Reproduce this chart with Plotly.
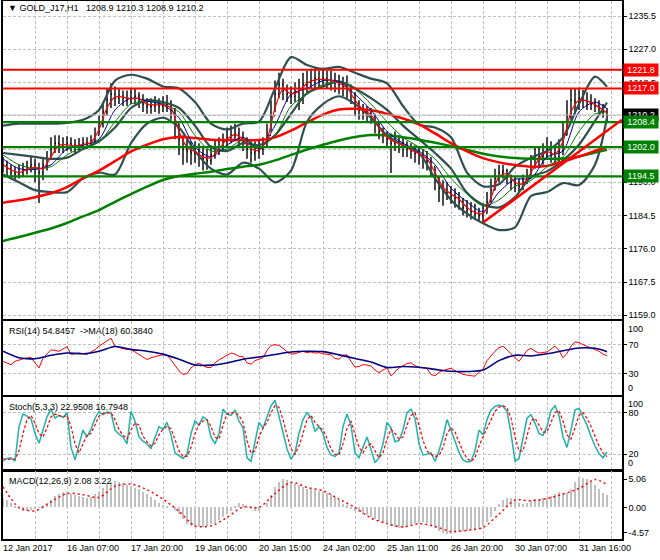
import plotly.graph_objects as go
from plotly.subplots import make_subplots

# ---------------- data ----------------
title_text = "\u25bc GOLD_J17,H1\u00a0\u00a0 1208.9 1210.3 1208.9 1210.2"
tick_bars = [0, 32, 64, 96, 128, 160, 192, 224, 256, 288]
tick_labels = ["12 Jan 2017", "16 Jan 07:00", "17 Jan 20:00", "19 Jan 06:00", "20 Jan 15:00",
               "24 Jan 02:00", "25 Jan 11:00", "26 Jan 20:00", "30 Jan 07:00", "31 Jan 16:00"]

bar_idx = list(range(0, 303, 2))          # one price bar every 2 hourly bars
idx4 = list(range(0, 301, 4)) + [302]
idx8 = list(range(0, 297, 8)) + [302]

close = [1197.5,1196.5,1195.5,1195,1195.5,1196,1197,1197.5,1196.5,1195.5,
         1197.5,1199,1201.5,1203,1202.5,1202,1203,1202.5,1202,1202.5,
         1203,1203,1203.5,1205,1208,1211,1214,1215.5,1214.5,1215,
         1214.5,1214,1214.5,1215,1214,1213,1212.5,1212.5,1213,1212.5,
         1213,1213,1211.5,1208,1204,1201.5,1201,1200.5,1201,1200,
         1199,1198.5,1200,1201.5,1202,1203.5,1204.5,1205,1205.5,1204,
         1203.5,1201.5,1200.5,1201,1201.5,1202,1205,1210,1215.5,1218,
         1216.5,1215.5,1215,1216,1217,1218,1218.5,1219,1219.5,1219,
         1219.5,1219,1219,1218.5,1218,1217.5,1217,1215.5,1213,1211.5,
         1211,1210.5,1210,1208,1206,1205,1204,1203,1203.5,1203,
         1202,1201.5,1201,1200.5,1200,1199.5,1198.5,1197,1194,1191.5,
         1191,1190.5,1189.5,1189,1188,1186.5,1186,1185.5,1185,1184.5,
         1185,1188,1191,1194,1195.5,1196,1194.5,1193,1192.5,1192,
         1193,1194.5,1197,1199,1199.5,1200,1201.5,1200.5,1199.5,1201,
         1205,1210,1214,1213.5,1214.5,1214,1213.5,1213,1212.5,1212,
         1211,1210.2]
high = [1199.5,1198.5,1197.5,1197,1197.5,1198,1198.5,1199.5,1199,1198,
        1199,1201,1204.5,1205,1205,1204.5,1204.8,1204.5,1204,1204.3,
        1204.5,1204.5,1205,1207,1210,1213.5,1217,1218.3,1217.5,1217,
        1216.5,1216.5,1217,1217,1216,1215.5,1214.5,1214.5,1215,1214.5,
        1215,1215.3,1214,1212,1208,1205,1204,1203.5,1203.5,1203,
        1202,1201.5,1202.5,1204,1204.5,1205.5,1207,1207.5,1208,1207,
        1206,1204.5,1203.5,1203.5,1204,1204.5,1208,1214,1219,1221,
        1219.5,1218,1217.5,1218.5,1219.5,1221,1221.5,1222,1222.2,1221.5,
        1222,1221.5,1221.5,1221,1220.5,1220,1220.3,1218,1216,1214,
        1213,1212.5,1212,1210.5,1208.5,1207,1206,1205.5,1206,1205,
        1204.5,1203.5,1203,1202.5,1202,1201.5,1201,1199.5,1197,1194.5,
        1193.5,1193,1192,1191.5,1190.5,1189,1188.5,1188,1187.5,1186.5,
        1187,1190.5,1194,1196.5,1197.5,1197.5,1196.5,1195,1194.5,1194,
        1195,1196.5,1200,1202,1202,1203,1204.5,1203.5,1202.5,1204,
        1208.5,1214,1217,1217,1217.2,1216.6,1216,1215.5,1214.5,1214,
        1213,1212]
low = [1195.5,1194.5,1193.8,1193.5,1194,1194.5,1195,1195.5,1193,1187.7,
       1193.5,1196,1199,1200.5,1200.5,1200.5,1201,1200.8,1200.5,1201,
       1201.5,1201.5,1202,1203,1205,1207,1210,1212,1212.5,1213,
       1212.5,1212.5,1213,1213,1212,1211,1210.5,1210.5,1211,1210.5,
       1211,1211,1209,1204,1200,1197.5,1198,1197.5,1198,1197,
       1196,1196.2,1197.5,1199,1200,1201,1202,1203,1203.5,1202,
       1201,1199,1198,1198.5,1199,1200,1202,1206,1211,1214.5,
       1214,1213.5,1213,1213.5,1211.5,1213,1216,1217,1217,1217,
       1217.5,1217,1216.5,1216,1215.5,1215,1214.5,1213,1210,1209,
       1209,1208.5,1208,1205.5,1204,1203,1202,1195.4,1201,1200.5,
       1199.5,1199.5,1199,1198,1197.5,1196.5,1196,1194.5,1191,1188,
       1187,1188.5,1187.5,1186.5,1186,1184.5,1184,1183.5,1183.5,1183,
       1182.7,1185,1188,1191,1193,1194,1192.5,1191,1190.5,1190.3,
       1191,1192.5,1194.5,1196.5,1197,1197.5,1199,1198,1197.5,1198,
       1200,1205,1209,1210.5,1211.5,1212,1211.5,1211.5,1211,1210.5,
       1209.5,1208.5]
open_ = [close[0]] + close[:-1]

ma_fast_red = [1197.5,1196.2,1195.5,1196.3,1196.8,1196.5,1199.5,1202.5,1202.6,1202.3,
               1202.7,1203.2,1206.5,1212,1214.8,1214.8,1214.4,1214.5,1213,1212.8,
               1212.8,1212,1206,1202,1200.8,1199.5,1199.3,1201.5,1204,1205.2,
               1204,1201.5,1201.2,1204,1212,1216.8,1215.6,1216.3,1218.3,1219.2,
               1219.3,1219.1,1218.3,1217.2,1214,1211.5,1210.3,1207,1204.5,1203.3,
               1202.5,1201.3,1200.3,1199,1195.5,1191.8,1190,1188.7,1186.6,1185.3,
               1185,1189,1194.5,1195.2,1193,1192.6,1195.5,1199,1200.8,1200.2,
               1203.5,1211,1214,1213.8,1212.8,1211.5,1210.8]
ma_navy = [1199,1196.5,1196.3,1197.5,1201.5,1202.5,1204,1211.5,1214.5,1213.8,
           1212.8,1209.5,1202,1199.5,1202.5,1204.5,1201.5,1207.5,1215.5,1217,
           1219,1218.8,1215.5,1211.5,1206,1203,1201,1197.5,1191.5,1188,
           1185.5,1190.5,1193.8,1194,1199.5,1201,1211,1213.5,1211.8]
ma_green_thin = [1200,1197.5,1196.5,1197,1200,1202,1203.3,1208.5,1213,1213.8,
                 1213,1211,1205,1201,1201.5,1203.8,1202,1205,1212.5,1215.5,
                 1218,1218.7,1216.8,1213,1208.5,1204.5,1202,1199,1194,1190,
                 1187,1188.5,1192,1193.5,1197,1199.5,1206,1210.5,1211]
ma_red_slow = [1187.8,1188.4,1189.2,1190.2,1191.8,1194.0,1196.0,1198.4,1200.9,1202.6,
               1204.0,1204.6,1204.3,1203.9,1203.8,1203.8,1203.8,1204.5,1206.2,1208.3,
               1210.3,1211.6,1211.8,1211.4,1210.5,1209.3,1207.8,1205.5,1203.0,1200.9,
               1199.2,1198.1,1197.4,1197.0,1197.2,1198.3,1199.6,1201.0,1202.1]
ma_green_slow = [1178.0,1179.0,1180.1,1181.2,1182.6,1184.3,1185.9,1188.0,1190.0,1191.9,
                 1193.6,1194.6,1195.2,1195.7,1196.4,1197.0,1197.5,1198.6,1200.0,1201.4,
                 1202.6,1203.7,1204.6,1205.1,1205.0,1204.5,1203.9,1203.1,1202.3,1201.3,
                 1200.3,1199.6,1199.2,1199.0,1199.0,1199.1,1199.6,1200.6,1201.3]
bb_upper = [1207.5,1208,1208,1208,1208.2,1209,1211.5,1219,1220.5,1219.5,
            1217.5,1217,1213.5,1208,1206.5,1208,1208.5,1217,1225,1223,
            1222,1222.5,1221,1219.5,1218.3,1212.5,1207.8,1207,1204.5,1195.5,
            1192,1192.5,1197,1199.3,1201,1204.5,1213,1220,1217.4]
bb_middle = [1200.5,1200,1199.5,1199,1199.3,1201.5,1203.5,1207,1212,1214,
             1213.5,1212,1207.5,1202,1201,1203,1202.5,1205,1210.5,1215.8,
             1217.5,1218.8,1217,1214.5,1211.5,1207.5,1204,1200.5,1196.5,1190.3,
             1187.3,1186.6,1189.2,1194.4,1195.8,1198.6,1202.6,1208.7,1213.4]
bb_lower = [1195,1193,1191,1190.5,1190.5,1194,1195.5,1195,1203,1208,
            1209.5,1207,1201,1196.5,1195,1198,1196.5,1193,1196,1208.5,
            1213,1215,1213,1209.5,1205,1202.5,1200.5,1194,1188.5,1185,
            1182.5,1180.8,1181.5,1189.5,1190.5,1192.8,1192.3,1197.5,1209.5]

red_levels = [1221.8, 1217.0]
green_levels = [1208.4, 1202.0, 1194.5]
bid_price = 1210.2
trend_bars = [240, 309.5]
trend_prices = [1182.7, 1209.0]

rsi = [47,45,42.5,47,49,50.5,51.5,52.5,45,38,
       51.5,58,63,62,61,64,67.5,56.5,58,58.5,
       57.5,56.5,60,63,68,72,76,79,68,66,
       64.5,63.5,63,60,56.5,53,49.5,52,54,55,
       56,56,49,42,34,29,30,38,42,44.5,
       42,38.5,38.5,45,49,52,56,58.5,57,54,
       53.5,45,43,48,50,52,62,69,70,69,
       65,60,57,57.5,59.5,61,59,60,58.5,59,
       57.5,56.5,56,51,50,55.5,56,47,39,40,
       42.5,42,40.5,35,31.5,35,38,27,33,38,
       41,44,45,41,39,38,37,29,27,32,
       34.5,36,37.5,34,32,29,28,27,26.5,32,
       36,48,55,61,66,68,63,57,52,47,
       54,62,65,61,58.5,59,60,64,68,62,
       52,58,68,74,73,70,68,66,64,61,
       57,54.8]
rsi_ma = [61,52,50.7,55.4,58.6,57.5,60.9,67.5,63.5,61,
          57,50,42,41.8,44.8,50,53,56.5,60,61,
          60.5,56,51,46,38.5,40,38.8,36,33.3,33,
          35,48,55.5,54.5,57.5,61.7,65.5,65,60.4]
stoch_k = [10,14,15,10,60,78,75,71,50,36,
           55,74,85,72,76,73,80,30,12,35,
           55,45,56,72,82,77,81,80,55,49,
           45,35,82,68,45,39,35,28,45,60,
           56,66,48,22,18,14,20,50,68,62,
           74,70,45,35,50,85,78,76,84,68,
           58,15,10,40,66,58,75,90,98,76,
           50,28,13,22,50,70,80,73,53,60,
           50,30,19,17,22,60,78,62,22,15,
           30,45,27,8,15,35,66,58,38,40,
           55,80,85,72,35,19,20,22,10,25,
           45,70,55,40,23,12,9,10,25,55,
           48,70,84,89,91,89,82,50,10,14,
           45,72,77,65,50,47,60,83,90,76,
           45,30,55,84,86,75,62,46,32,21,
           15,23]
stoch_d = [14,12,13,13,25,50,70,76,65,50,
           45,58,74,78,76,74,76,60,35,22,
           35,48,50,62,75,79,80,80,70,55,
           48,42,55,65,62,46,38,32,36,48,
           56,60,57,40,25,17,17,30,50,63,
           68,70,60,45,42,62,78,80,80,76,
           66,40,22,25,45,58,66,80,90,88,
           70,48,28,20,32,50,70,76,66,60,
           55,43,28,20,19,35,57,68,50,30,
           22,32,35,25,15,22,42,56,50,42,
           45,62,76,80,62,40,25,20,17,18,
           30,50,58,52,38,24,14,10,15,32,
           45,58,70,82,88,90,87,72,45,25,
           25,48,68,72,62,52,52,66,80,83,
           68,48,42,58,76,80,72,60,46,32,
           22,16.8]
macd_hist = [1.7,1.3,0.8,0.2,-0.4,-0.6,-0.6,-0.5,-0.3,-0.1,
             0.3,0.8,1.3,2.0,2.4,2.7,2.7,2.4,2.2,2.0,
             1.8,1.7,1.9,2.3,2.8,3.5,4.2,4.5,4.7,4.5,
             4.3,4.0,3.8,3.5,3.2,2.8,2.3,1.8,1.2,0.8,
             0.4,0.2,0.0,-0.5,-1.3,-2.2,-3.0,-3.4,-3.6,-3.6,
             -3.5,-3.3,-3.1,-2.8,-2.3,-1.8,-1.2,-0.6,0.2,0.7,
             0.6,-0.1,-0.4,-0.7,-0.6,0.0,0.8,2.2,3.6,4.6,
             5.0,4.9,4.6,4.2,3.9,3.6,3.3,3.2,3.0,2.9,
             2.8,2.6,2.3,1.8,1.2,0.6,0.3,-0.2,-0.6,-0.9,
             -1.2,-1.4,-1.7,-2.1,-2.5,-2.8,-3.1,-3.4,-3.6,-3.7,
             -3.7,-3.5,-3.1,-2.9,-2.8,-2.7,-2.8,-3.3,-3.8,-4.3,
             -4.6,-4.8,-4.9,-4.7,-4.4,-4.3,-4.2,-4.1,-4.1,-3.9,
             -3.4,-2.6,-1.7,-0.6,0.5,1.3,1.6,1.7,1.4,0.8,
             0.6,0.7,1.1,1.4,1.5,1.6,1.7,2.0,2.4,2.7,
             2.6,2.6,3.2,4.6,5.4,5.3,5.0,4.6,4.0,3.3,
             2.6,2.1]
macd_signal = [3.7,0.0,-0.6,1.0,2.5,2.3,1.8,3.8,4.2,3.2,
               1.5,-0.7,-3.3,-3.3,-1.8,0.1,0.0,2.5,4.5,3.6,
               3.0,1.5,0.0,-1.9,-2.9,-3.5,-2.9,-3.4,-4.3,-4.1,
               -3.6,-1.2,1.3,1.2,1.6,2.4,3.4,5.0,4.1]

rsi_label = "RSI(14) 54.8457\u00a0 ->MA(18) 60.3840"
stoch_label = "Stoch(5,3,3) 22.9508 16.7948"
macd_label = "MACD(12,26,9) 2.08 3.22"
macd_ticks = [5.06, 0.0, -4.57]

# ---------------- figure ----------------
W, H = 660, 560
M_L, M_R, M_T, M_B = 3, 38, 1, 21
PH = H - M_T - M_B


def py(pix):
    return (H - M_B - pix) / PH


FONT = "Liberation Sans, Arial, sans-serif"
GRID = "#C0C0C0"
RED = "#FF0000"
GREEN = "#008000"
SLATE = "#2F4F4F"
NAVY = "#000080"

fig = make_subplots(rows=4, cols=1, shared_xaxes=True, vertical_spacing=0.004)

fig.add_trace(go.Ohlc(x=bar_idx, open=open_, high=high, low=low, close=close,
                      increasing=dict(line=dict(color="black", width=1.4)),
                      decreasing=dict(line=dict(color="black", width=1.4)),
                      tickwidth=0.25, hoverinfo="skip"), row=1, col=1)


def line(x, y, color, width, row, dash=None, shape="spline"):
    fig.add_trace(go.Scatter(x=x, y=y, mode="lines",
                             line=dict(color=color, width=width, dash=dash, shape=shape,
                                       smoothing=0.8 if shape == "spline" else None),
                             hoverinfo="skip"), row=row, col=1)


for band in (bb_upper, bb_middle, bb_lower):
    line(idx8, band, SLATE, 2.2, 1)
line(idx8, ma_green_slow, GREEN, 2.5, 1)
line(idx8, ma_red_slow, RED, 2.5, 1)
line(idx8, ma_green_thin, GREEN, 1, 1)
line(idx8, ma_navy, "#0000A0", 1, 1)
line(idx4, ma_fast_red, RED, 1.2, 1)

# RSI
line(bar_idx, rsi, RED, 1, 2, shape="linear")
line(idx8, rsi_ma, NAVY, 1.6, 2)
# Stochastic
line(bar_idx, stoch_k, "#20B2AA", 1.5, 3, shape="linear")
line(bar_idx, stoch_d, RED, 1.2, 3, dash="3px,2px", shape="linear")
# MACD
fig.add_trace(go.Bar(x=bar_idx, y=macd_hist, width=1.0, marker=dict(color="#C0C0C0", line=dict(width=0)),
                     hoverinfo="skip"), row=4, col=1)
line(idx8, macd_signal, RED, 1.5, 4, dash="2px,3px")

# level lines / trend line / bid line
shapes = []
shapes.append(dict(type="line", xref="x domain", yref="y", x0=0, x1=1, y0=bid_price, y1=bid_price,
                   line=dict(color="#C0C0C0", width=1), layer="above"))
for lv in red_levels:
    shapes.append(dict(type="line", xref="x domain", yref="y", x0=0, x1=1, y0=lv, y1=lv,
                       line=dict(color=RED, width=2), layer="above"))
for lv in green_levels:
    shapes.append(dict(type="line", xref="x domain", yref="y", x0=0, x1=1, y0=lv, y1=lv,
                       line=dict(color=GREEN, width=2.2), layer="above"))
shapes.append(dict(type="line", xref="x", yref="y", x0=trend_bars[0], x1=trend_bars[1],
                   y0=trend_prices[0], y1=trend_prices[1], line=dict(color=RED, width=2.5), layer="above"))

annotations = []
annotations.append(dict(xref="paper", yref="paper", x=0, y=py(8), xanchor="left", yanchor="middle",
                        xshift=3, text=title_text, showarrow=False, font=dict(family=FONT, size=9, color="black")))
for txt, pix in ((rsi_label, 330.7), (stoch_label, 406.7), (macd_label, 480.7)):
    annotations.append(dict(xref="paper", yref="paper", x=0, y=py(pix), xanchor="left", yanchor="middle",
                            xshift=4, text=txt, showarrow=False, font=dict(family=FONT, size=9, color="black")))
for b, lab in zip(tick_bars, tick_labels):
    annotations.append(dict(xref="x4", yref="paper", x=b, y=py(548), xanchor="left", yanchor="middle",
                            xshift=-2, text=lab, showarrow=False, font=dict(family=FONT, size=9, color="black")))
# price boxes on the right axis
box_items = [(bid_price, "black")] + [(v, RED) for v in red_levels] + [(v, GREEN) for v in green_levels]
for v, col in box_items:
    annotations.append(dict(xref="paper", yref="y", x=1, y=v, xanchor="left", yanchor="middle", xshift=1,
                            text=f"{v:.1f}", showarrow=False, bgcolor=col, width=32, height=10, borderpad=1,
                            font=dict(family=FONT, size=9, color="white"), align="center"))
# extreme labels of the oscillators (MT4 draws them pulled inside the pane)
for txt, pix in (("100", 328.7), ("0", 388.3), ("100", 404.3), ("0", 462.7)):
    annotations.append(dict(xref="paper", yref="paper", x=1, y=py(pix), xanchor="left", yanchor="middle",
                            xshift=4, text=txt, showarrow=False, font=dict(family=FONT, size=9, color="black")))

axis_common = dict(showline=True, linecolor="black", linewidth=1.5, mirror=True, zeroline=False,
                   gridcolor=GRID, griddash="3px,2px", gridwidth=1)

fig.update_layout(width=W, height=H, margin=dict(l=M_L, r=M_R, t=M_T, b=M_B, autoexpand=False),
                  paper_bgcolor="white", plot_bgcolor="white", showlegend=False,
                  font=dict(family=FONT, size=9, color="black"), bargap=0,
                  shapes=shapes, annotations=annotations)

for i in range(1, 5):
    fig.update_xaxes(row=i, col=1, range=[0, 309.5], tickmode="linear", tick0=0, dtick=16,
                     showticklabels=False, ticks="", showgrid=True, rangeslider=dict(visible=False),
                     **axis_common)

fig.update_yaxes(row=1, col=1, domain=[py(319), 1.0], range=[1158.06, 1239.35], side="right",
                 tickmode="linear", tick0=1159.0, dtick=8.5, tickformat=".1f", ticks="outside", ticklen=3,
                 tickcolor="black", showgrid=True, **axis_common)
fig.update_yaxes(row=2, col=1, domain=[py(394.7), py(321.3)], range=[1.0, 102.3], side="right",
                 tickvals=[30, 70], ticks="outside", ticklen=3, tickcolor="black", showgrid=True, **axis_common)
fig.update_yaxes(row=3, col=1, domain=[py(469.7), py(397)], range=[-2.2, 102.6], side="right",
                 tickvals=[20, 80], ticks="outside", ticklen=3, tickcolor="black", showgrid=True, **axis_common)
fig.update_yaxes(row=4, col=1, domain=[0.0, py(471.3)], range=[-5.66, 6.49], side="right",
                 tickvals=macd_ticks, ticktext=[f"{v:.2f}" for v in macd_ticks], ticks="outside", ticklen=3,
                 tickcolor="black", showgrid=False, **axis_common)

fig.write_html("out.html", config={"displayModeBar": False},
               post_script="document.body.style.margin='0';document.body.style.padding='0';"
                           "document.body.style.overflow='hidden';")
